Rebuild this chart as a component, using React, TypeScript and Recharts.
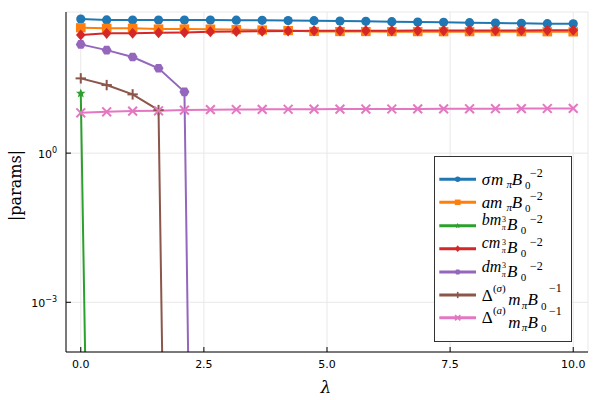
import React from 'react';
import { LineChart, Line, XAxis, YAxis, CartesianGrid, Legend, Label } from 'recharts';

const lambdaVals = [0, 0.526, 1.053, 1.579, 2.105, 2.632, 3.158, 3.684, 4.211, 4.737, 5.263, 5.789, 6.316, 6.842, 7.368, 7.895, 8.421, 8.947, 9.474, 10];
const sigmaVals = [499, 478, 476, 476, 475, 474, 473, 470, 463, 461, 455, 448, 440, 434, 428, 420, 414, 408, 401, 400];
const aVals = [333, 324, 324, 314, 314, 312, 306, 300, 292, 280, 279, 279, 278, 278, 277, 277, 277, 276, 276, 275];
const bVals = [15.9, 1e-30, 1e-30, 1e-30, 1e-30, 1e-30, 1e-30, 1e-30, 1e-30, 1e-30, 1e-30, 1e-30, 1e-30, 1e-30, 1e-30, 1e-30, 1e-30, 1e-30, 1e-30, 1e-30];
const cVals = [238, 257, 258, 264, 267, 277, 280, 283, 286, 290, 290, 291, 291, 292, 292, 293, 293, 294, 295, 296];
const dVals = [154, 118, 86, 51, 17.1, 2e-36, 2e-36, 2e-36, 2e-36, 2e-36, 2e-36, 2e-36, 2e-36, 2e-36, 2e-36, 2e-36, 2e-36, 2e-36, 2e-36, 2e-36];
const deltaSigmaVals = [31.9, 23.4, 15.2, 7.34, 1e-34, 1e-34, 1e-34, 1e-34, 1e-34, 1e-34, 1e-34, 1e-34, 1e-34, 1e-34, 1e-34, 1e-34, 1e-34, 1e-34, 1e-34, 1e-34];
const deltaAVals = [6.48, 6.79, 7.01, 7.11, 7.34, 7.5, 7.55, 7.6, 7.63, 7.66, 7.69, 7.7, 7.72, 7.75, 7.78, 7.8, 7.83, 7.86, 7.9, 7.94];

const xTicks = [0, 2.5, 5, 7.5, 10];
const yTicks = [1e-3, 1];
const yTickLabels: Record<string, [string, string]> = { '0.001': ['10', '\u22123'], '1': ['10', '0'] };

const data = lambdaVals.map((l, i) => ({
  lambda: l,
  sigma: sigmaVals[i],
  a: aVals[i],
  b: bVals[i],
  c: cVals[i],
  d: dVals[i],
  ds: deltaSigmaVals[i],
  da: deltaAVals[i],
}));

type Shape = 'circle' | 'square' | 'star' | 'diamond' | 'hexagon' | 'plus' | 'cross';

const series: { key: string; color: string; shape: Shape }[] = [
  { key: 'sigma', color: '#1f77b4', shape: 'circle' },
  { key: 'a', color: '#ff7f0e', shape: 'square' },
  { key: 'b', color: '#2ca02c', shape: 'star' },
  { key: 'c', color: '#d62728', shape: 'diamond' },
  { key: 'd', color: '#9467bd', shape: 'hexagon' },
  { key: 'ds', color: '#8c564b', shape: 'plus' },
  { key: 'da', color: '#e377c2', shape: 'cross' },
];

function polyPoints(cx: number, cy: number, pts: [number, number][]) {
  return pts.map(([x, y]) => `${cx + x},${cy + y}`).join(' ');
}

function MarkerShape({ shape, cx, cy, color, s }: { shape: Shape; cx: number; cy: number; color: string; s: number }) {
  switch (shape) {
    case 'circle':
      return <circle cx={cx} cy={cy} r={4.6 * s} fill={color} />;
    case 'square':
      return <rect x={cx - 4.8 * s} y={cy - 4.6 * s} width={9.6 * s} height={9.2 * s} fill={color} />;
    case 'diamond':
      return <polygon points={polyPoints(cx, cy, [[0, -5.6 * s], [4.8 * s, 0], [0, 5.6 * s], [-4.8 * s, 0]])} fill={color} />;
    case 'hexagon': {
      const r = 5 * s;
      const pts: [number, number][] = [];
      for (let k = 0; k < 6; k++) {
        const ang = (Math.PI / 3) * k;
        pts.push([r * Math.cos(ang), r * Math.sin(ang)]);
      }
      return <polygon points={polyPoints(cx, cy, pts)} fill={color} />;
    }
    case 'star': {
      const R = 5 * s;
      const r = 2.2 * s;
      const pts: [number, number][] = [];
      for (let k = 0; k < 10; k++) {
        const ang = -Math.PI / 2 + (Math.PI / 5) * k;
        const rr = k % 2 === 0 ? R : r;
        pts.push([rr * Math.cos(ang), rr * Math.sin(ang)]);
      }
      return <polygon points={polyPoints(cx, cy, pts)} fill={color} />;
    }
    case 'plus': {
      const h = 5.2 * s;
      return (
        <g stroke={color} strokeWidth={2 * Math.max(s, 0.8)}>
          <line x1={cx - h} x2={cx + h} y1={cy} y2={cy} />
          <line x1={cx} x2={cx} y1={cy - h} y2={cy + h} />
        </g>
      );
    }
    case 'cross': {
      const h = 4.4 * s;
      return (
        <g stroke={color} strokeWidth={2 * Math.max(s, 0.8)}>
          <line x1={cx - h} x2={cx + h} y1={cy - h} y2={cy + h} />
          <line x1={cx - h} x2={cx + h} y1={cy + h} y2={cy - h} />
        </g>
      );
    }
  }
  return null;
}

const makeDot = (key: string, color: string, shape: Shape) => (props: any) => {
  const { cx, cy, payload, index } = props;
  const v = payload ? payload[key] : undefined;
  if (v == null || v < 1e-4 || cx == null || cy == null || isNaN(cx) || isNaN(cy)) {
    return <g key={`${key}-${index}`} />;
  }
  return (
    <g key={`${key}-${index}`}>
      <MarkerShape shape={shape} cx={cx} cy={cy} color={color} s={1} />
    </g>
  );
};

const XTick = (props: any) => {
  const { x, y, payload } = props;
  const axisY = y - 8;
  return (
    <g>
      <line x1={x} x2={x} y1={axisY} y2={axisY - 5} stroke="#000" strokeWidth={1} />
      <text x={x} y={axisY + 16} textAnchor="middle" fontFamily="DejaVu Sans" fontSize={11} fill="#000">
        {Number(payload.value).toFixed(1)}
      </text>
    </g>
  );
};

const YTick = (props: any) => {
  const { x, y, payload } = props;
  const axisX = x + 8;
  const lab = yTickLabels[String(payload.value)] || ['10', '?'];
  return (
    <g>
      <line x1={axisX} x2={axisX + 5} y1={y} y2={y} stroke="#000" strokeWidth={1} />
      <text x={axisX - 9} y={y + 4.5} textAnchor="end" fontFamily="DejaVu Sans" fontSize={11} fill="#000">
        <tspan>{lab[0]}</tspan>
        <tspan dy={-5} fontSize={8}>{lab[1]}</tspan>
      </text>
    </g>
  );
};

const YLabelContent = (props: any) => {
  const vb = props.viewBox || { x: 0, y: 12, width: 66, height: 340 };
  const cy = vb.y + vb.height / 2 + 3.5;
  return (
    <text x={21} y={cy} transform={`rotate(-90 21 ${cy})`} textAnchor="middle" fontFamily="DejaVu Serif" fontSize={16} fill="#000">
      |params|
    </text>
  );
};

const XLabelContent = (props: any) => {
  const vb = props.viewBox || { x: 66, y: 352, width: 522, height: 48 };
  const cx = vb.x + vb.width / 2 - 1;
  return (
    <text x={cx} y={393} textAnchor="middle" fontFamily="DejaVu Serif" fontStyle="italic" fontSize={17} fill="#000">
      λ
    </text>
  );
};

const serif = 'Liberation Serif';

const OX = 434;
const OY = 156;
const entryLineY = [179.3, 202.3, 225.7, 248.7, 272, 295, 317.7];

type Piece = { t: string; gx: number; dy: number; size: number; it: boolean };

function entryPieces(idx: number): Piece[] {
  if (idx === 0 || idx === 1) {
    return [
      { t: idx === 0 ? 'σ' : 'a', gx: 481.7, dy: 5.7, size: 17, it: true },
      { t: 'm', gx: idx === 0 ? 491 : 490, dy: 5.7, size: 17, it: true },
      { t: 'π', gx: 506.5, dy: 9, size: 11, it: true },
      { t: 'B', gx: 511.7, dy: 5.7, size: 17, it: true },
      { t: '0', gx: 525, dy: 10, size: 11, it: false },
      { t: '−2', gx: 530, dy: -2.5, size: 12, it: false },
    ];
  }
  if (idx >= 2 && idx <= 4) {
    return [
      { t: ['bm', 'cm', 'dm'][idx - 2], gx: 481.7, dy: -0.5, size: 16, it: true },
      { t: '3', gx: 502, dy: -3.6, size: 8, it: false },
      { t: 'π', gx: 501.7, dy: 4.6, size: 8, it: true },
      { t: 'B', gx: 507, dy: 4.5, size: 17, it: true },
      { t: '0', gx: 520.7, dy: 8.5, size: 11, it: false },
      { t: '−2', gx: 530, dy: -2.5, size: 12, it: false },
    ];
  }
  return [
    { t: 'Δ', gx: 481.7, dy: 5.5, size: 17, it: false },
    { t: '(', gx: 493, dy: -3.3, size: 11, it: false },
    { t: idx === 5 ? 'σ' : 'a', gx: 496.5, dy: -3.3, size: 11, it: true },
    { t: ')', gx: 502, dy: -3.3, size: 11, it: false },
    { t: 'm', gx: 508.3, dy: 10, size: 17, it: true },
    { t: 'π', gx: 521.7, dy: 13.5, size: 11, it: true },
    { t: 'B', gx: 527.5, dy: 10, size: 17, it: true },
    { t: '0', gx: 541, dy: 14.5, size: 11, it: false },
    { t: '−1', gx: 549, dy: -3, size: 12, it: false },
  ];
}

function EntryText({ idx }: { idx: number }) {
  const L = entryLineY[idx] - OY;
  const pieces = entryPieces(idx);
  return (
    <text fontFamily={serif} fill="#000">
      {pieces.map((p, k) => (
        <tspan key={k} x={p.gx - OX} y={L + p.dy} fontSize={p.size} fontStyle={p.it ? 'italic' : 'normal'}>
          {p.t}
        </tspan>
      ))}
    </text>
  );
}

const LegendContent = () => {
  const w = 137;
  const h = 185;
  return (
    <svg width={w + 2} height={h + 2} style={{ display: 'block', overflow: 'visible' }}>
      <rect x={0.5} y={0.5} width={w} height={h} fill="#fff" stroke="#333" strokeWidth={1} />
      {series.map((s, i) => {
        const ly = entryLineY[i] - OY;
        return (
          <g key={s.key}>
            <line x1={439.3 - OX} x2={476 - OX} y1={ly} y2={ly} stroke={s.color} strokeWidth={3} />
            <MarkerShape shape={s.shape} cx={457.7 - OX} cy={ly} color={s.color} s={0.6} />
            <EntryText idx={i} />
          </g>
        );
      })}
    </svg>
  );
};

export default function App() {
  return (
    <div style={{ position: 'absolute', left: 0, top: 0, width: 600, height: 400, background: '#fff' }}>
      <LineChart width={600} height={400} data={data} margin={{ top: 12, right: 12, bottom: 0, left: 0 }}>
        <CartesianGrid stroke="#e8e8e8" strokeWidth={1} />
        <XAxis
          dataKey="lambda"
          type="number"
          domain={[-0.3, 10.3]}
          ticks={xTicks}
          allowDataOverflow
          height={48}
          axisLine={{ stroke: '#000', strokeWidth: 1 }}
          tickLine={false}
          tick={<XTick />}
          interval={0}
        >
          <Label content={<XLabelContent />} />
        </XAxis>
        <YAxis
          type="number"
          scale="log"
          domain={[1e-4, 690]}
          ticks={yTicks}
          allowDataOverflow
          width={66}
          axisLine={{ stroke: '#000', strokeWidth: 1 }}
          tickLine={false}
          tick={<YTick />}
          interval={0}
        >
          <Label content={<YLabelContent />} />
        </YAxis>
        <Legend
          layout="vertical"
          align="center"
          verticalAlign="middle"
          content={<LegendContent />}
          wrapperStyle={{ position: 'absolute', left: OX, top: OY, width: 139, height: 187 }}
        />
        {series.map((s) => (
          <Line
            key={s.key}
            type="linear"
            dataKey={s.key}
            stroke={s.color}
            strokeWidth={2}
            dot={makeDot(s.key, s.color, s.shape)}
            activeDot={false}
            isAnimationActive={false}
            legendType="line"
          />
        ))}
      </LineChart>
    </div>
  );
}
